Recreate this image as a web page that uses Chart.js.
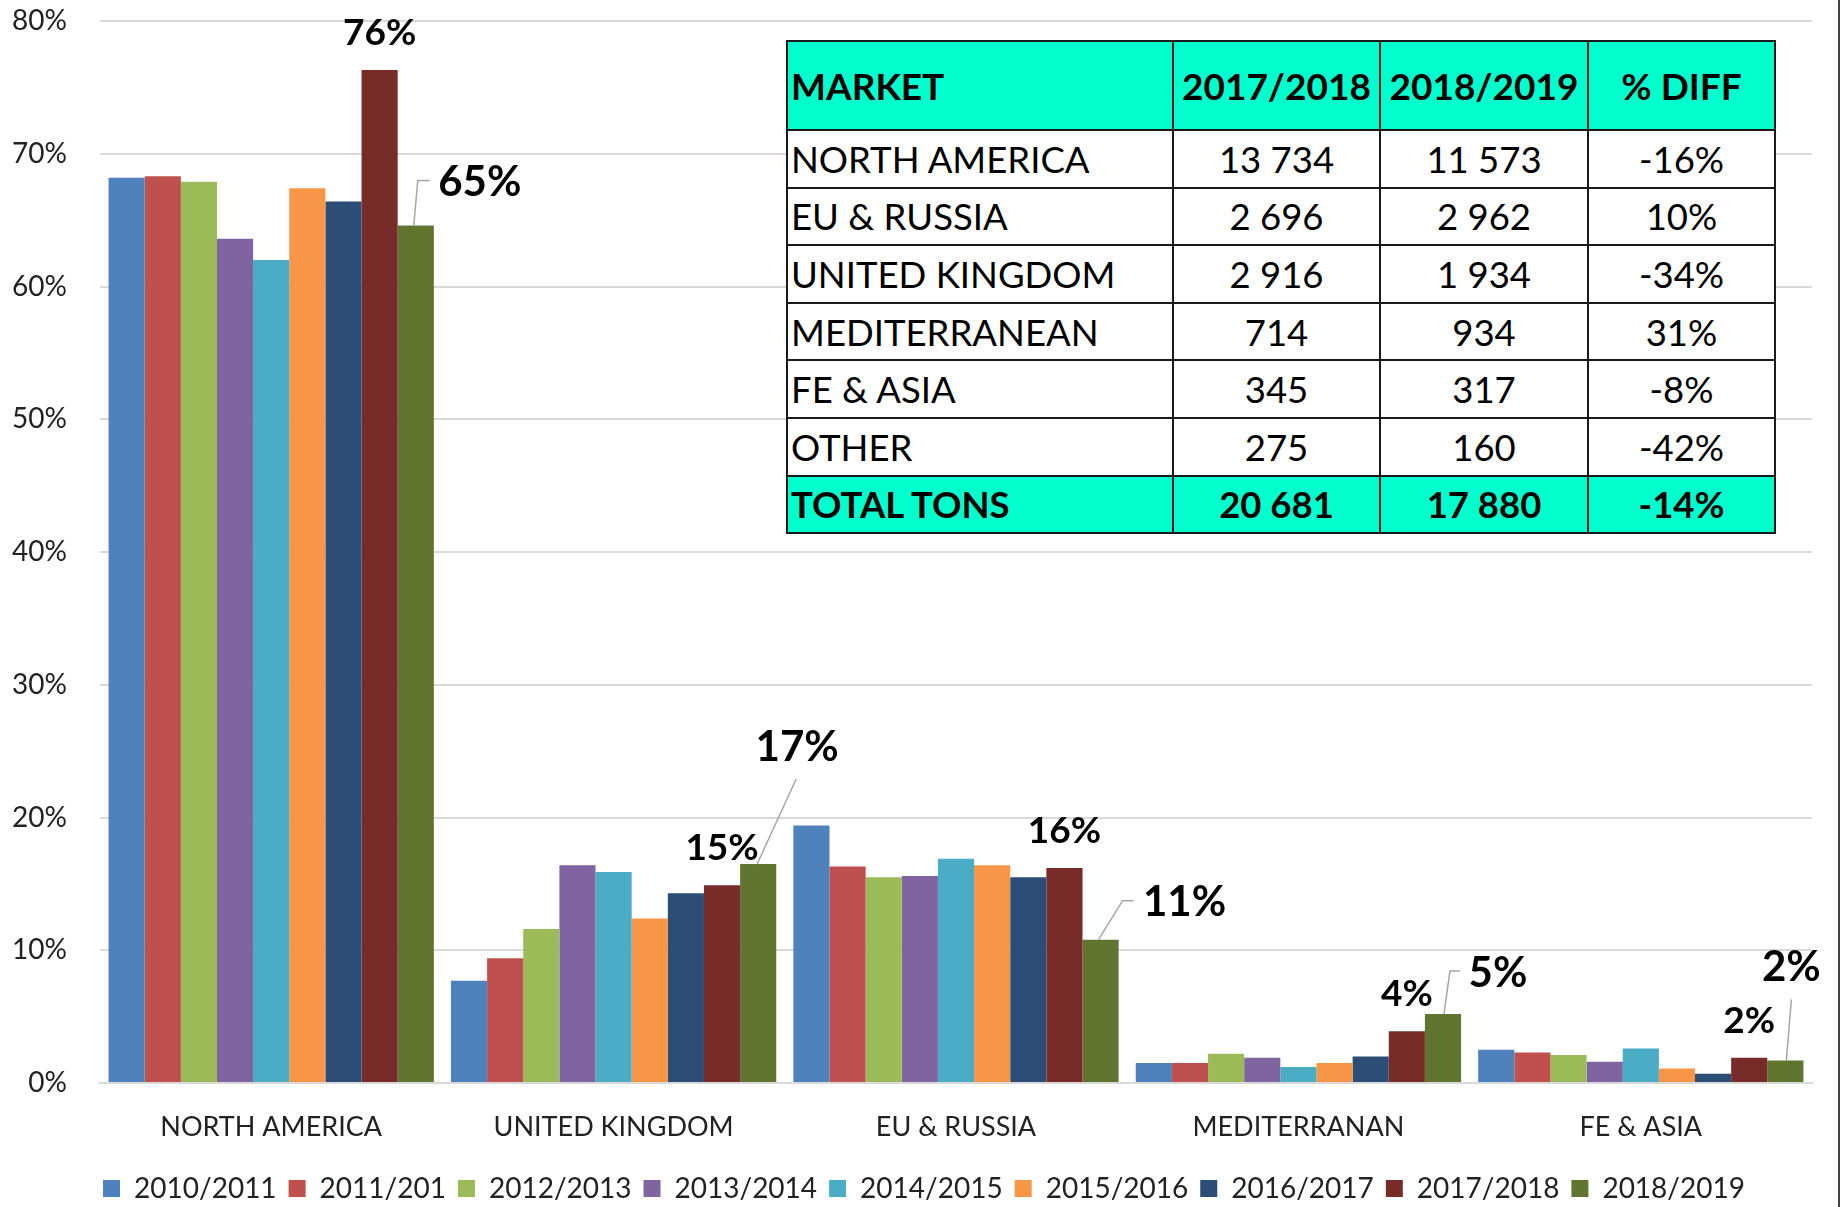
<!DOCTYPE html>
<html>
<head>
<meta charset="utf-8">
<script src="https://cdn.jsdelivr.net/npm/chart.js@4.4.1/dist/chart.umd.min.js"></script>
<style>
  html, body { margin: 0; padding: 0; background: #fff; }
  #wrap { position: relative; width: 1845px; height: 1207px; overflow: hidden; }
  #chart { position: absolute; left: 0; top: 0; }
  #edge { position: absolute; left: 1838px; top: 0; width: 2px; height: 1207px; background: #404040; }
  #market {
    position: absolute; left: 786px; top: 40px; width: 988px;
    border-collapse: collapse; table-layout: fixed;
    font-family: Lato, sans-serif; font-size: 36.5px; color: #000; background: #fff;
  }
  #market td { border: 2px solid #1a1a1a; padding: 0 2px; height: 55.6px; text-align: center; vertical-align: middle; white-space: nowrap; }
  #market td:first-child { text-align: left; padding-left: 3px; }
  #market tr.head td { height: 87px; font-size: 37px; }
  #market tr.head td, #market tr.total td { background: #00ffcc; font-weight: bold; }
</style>
</head>
<body>
<div id="wrap">
  <canvas id="chart" width="1845" height="1207"></canvas>
  <table id="market"></table>
  <div id="edge"></div>
</div>
<script>
// chart data
const categories = ["NORTH AMERICA", "UNITED KINGDOM", "EU & RUSSIA", "MEDITERRANAN", "FE & ASIA"];
const seasons = ["2010/2011", "2011/201", "2012/2013", "2013/2014", "2014/2015", "2015/2016", "2016/2017", "2017/2018", "2018/2019"];
const s2010 = [68.2, 7.7, 19.4, 1.5, 2.5];
const s2011 = [68.3, 9.4, 16.3, 1.5, 2.3];
const s2012 = [67.9, 11.6, 15.5, 2.2, 2.1];
const s2013 = [63.6, 16.4, 15.6, 1.9, 1.6];
const s2014 = [62.0, 15.9, 16.9, 1.2, 2.6];
const s2015 = [67.4, 12.4, 16.4, 1.5, 1.1];
const s2016 = [66.4, 14.3, 15.5, 2.0, 0.7];
const s2017 = [76.3, 14.9, 16.2, 3.9, 1.9];
const s2018 = [64.6, 16.5, 10.8, 5.2, 1.7];
const yTicks = [0, 10, 20, 30, 40, 50, 60, 70, 80];

// table data
const tableHead = ["MARKET", "2017/2018", "2018/2019", "% DIFF"];
const markets = ["NORTH AMERICA", "EU & RUSSIA", "UNITED KINGDOM", "MEDITERRANEAN", "FE & ASIA", "OTHER"];
const tons1718 = [13734, 2696, 2916, 714, 345, 275];
const tons1819 = [11573, 2962, 1934, 934, 317, 160];
const diffPct = [-16, 10, -34, 31, -8, -42];
const totalLabel = "TOTAL TONS";
const total1718 = 20681;
const total1819 = 17880;
const totalDiff = -14;

const colors = ["#4f81bd", "#c0504d", "#9bbb59", "#8064a2", "#4bacc6", "#f79646", "#2c4d75", "#772c2a", "#5f7530"];
const FONT = "Lato";

// build the table
function fmt(n) { return String(n).replace(/\B(?=(\d{3})+(?!\d))/g, " "); }
function row(cls, cells) {
  return "<tr class='" + cls + "'>" + cells.map(c => "<td>" + c + "</td>").join("") + "</tr>";
}
let html = "<colgroup><col style='width:386px'><col style='width:207px'><col style='width:208px'><col style='width:187px'></colgroup>";
html += row("head", tableHead);
markets.forEach((m, i) => { html += row("", [m, fmt(tons1718[i]), fmt(tons1819[i]), diffPct[i] + "%"]); });
html += row("total", [totalLabel, fmt(total1718), fmt(total1819), totalDiff + "%"]);
document.getElementById("market").innerHTML = html;

// label placement for the last two seasons (offsets from the bar top)
const maroonLabel = { dx: 0, dy: -37, size: 37 };
const oliveLabels = [
  { dx: 64, dy: -43, leader: [[-2, 0], [2, -45], [14, -45]] },
  { dx: 39, dy: -117, leader: [[-1, 0], [38, -85]] },
  { dx: 84, dy: -37, leader: [[-2, 0], [22, -39], [33, -39]] },
  { dx: 55, dy: -41, leader: [[1, 0], [7, -43], [17, -43]] },
  { dx: 6, dy: -93, leader: [[1, 0], [6, -61]] }
];

const barLabels = {
  id: "barLabels",
  afterLayout(chart) {
    // nudge legend down to sit where the original had it
    const lg = chart.legend;
    lg.top += 5.5; lg.bottom += 5.5;
    lg.left += 18; lg.right += 18;
  },
  afterDatasetsDraw(chart) {
    const ctx = chart.ctx;
    ctx.save();
    ctx.textAlign = "center";
    ctx.textBaseline = "middle";
    ctx.fillStyle = "#000";
    [7, 8].forEach(di => {
      const meta = chart.getDatasetMeta(di);
      meta.data.forEach((bar, i) => {
        const v = chart.data.datasets[di].data[i];
        const st = di === 7 ? maroonLabel : oliveLabels[i];
        if (st.leader) {
          ctx.strokeStyle = "#a6a6a6";
          ctx.lineWidth = 1.5;
          ctx.beginPath();
          st.leader.forEach((p, k) => {
            if (k === 0) ctx.moveTo(bar.x + p[0], bar.y + p[1]);
            else ctx.lineTo(bar.x + p[0], bar.y + p[1]);
          });
          ctx.stroke();
        }
        ctx.font = "bold " + (st.size || 42) + "px " + FONT;
        ctx.fillText(Math.round(v) + "%", bar.x + st.dx, bar.y + st.dy);
      });
    });
    ctx.restore();
  }
};

const series = [s2010, s2011, s2012, s2013, s2014, s2015, s2016, s2017, s2018];

new Chart(document.getElementById("chart").getContext("2d"), {
  type: "bar",
  data: {
    labels: categories,
    datasets: seasons.map((s, i) => ({
      label: s,
      data: series[i],
      backgroundColor: colors[i],
      borderWidth: 0,
      categoryPercentage: 0.95,
      barPercentage: 1.0
    }))
  },
  options: {
    responsive: false,
    animation: false,
    devicePixelRatio: 1,
    layout: { padding: { top: 21, right: 33, bottom: 0, left: 0 } },
    plugins: {
      legend: {
        position: "bottom",
        labels: {
          font: { family: FONT, size: 28 },
          color: "#222",
          boxWidth: 17,
          boxHeight: 17,
          padding: 12
        }
      },
      tooltip: { enabled: false }
    },
    scales: {
      x: {
        grid: { display: false, drawTicks: false },
        border: { color: "#d9d9d9", width: 2 },
        ticks: { font: { family: FONT, size: 27 }, color: "#222", padding: 28, maxRotation: 0 },
        afterFit(scale) { scale.height = 74; }
      },
      y: {
        min: 0,
        max: 80,
        afterBuildTicks(scale) { scale.ticks = yTicks.map(v => ({ value: v })); },
        grid: { color: "#d9d9d9", lineWidth: 2, drawTicks: false },
        border: { display: false },
        ticks: {
          font: { family: FONT, size: 28 },
          color: "#222",
          padding: 33,
          callback: v => v + "%"
        },
        afterFit(scale) {
          scale.width = 100;
          scale.paddingTop = 0;
          scale.paddingBottom = 0;
        }
      }
    }
  },
  plugins: [barLabels]
});
</script>
</body>
</html>
